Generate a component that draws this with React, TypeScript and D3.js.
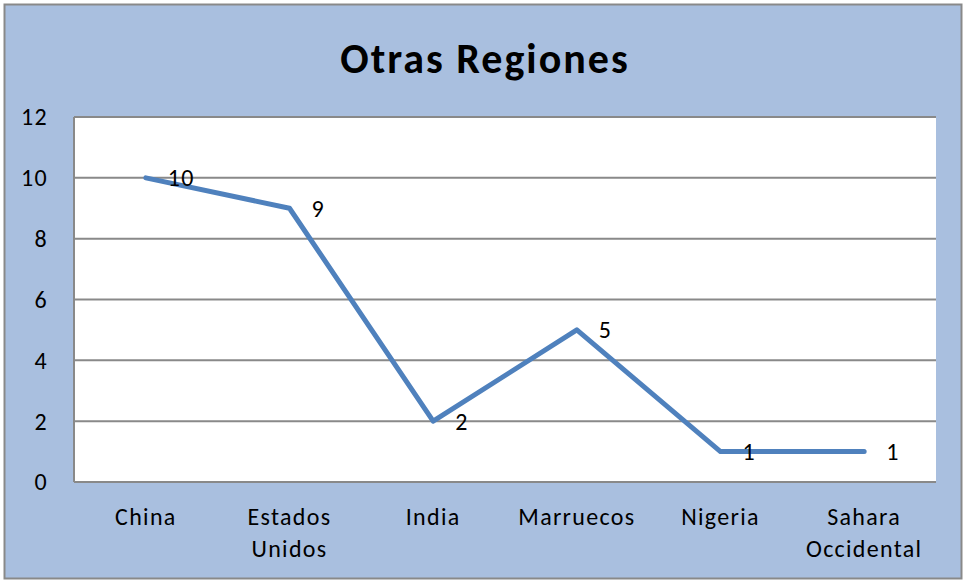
import React from "react";
import * as d3 from "d3";

const categories = ["China", "Estados Unidos", "India", "Marruecos", "Nigeria", "Sahara Occidental"];
const categoryLines = [["China"], ["Estados", "Unidos"], ["India"], ["Marruecos"], ["Nigeria"], ["Sahara", "Occidental"]];
const values = [10, 9, 2, 5, 1, 1];
const yTicks = [0, 2, 4, 6, 8, 10, 12];
const title = "Otras Regiones";

export default function App() {
  const W = 963, H = 581;
  const left = 74, right = 936, top = 117, bottom = 482;
  const x = d3.scaleBand<string>().domain(categories).range([left, right]);
  const y = d3.scaleLinear().domain([0, 12]).range([bottom, top]);
  const cx = (c: string) => (x(c) as number) + x.bandwidth() / 2;
  const line = d3.line<number>().x((_, i) => cx(categories[i])).y((d) => y(d));
  const font = "Carlito, Calibri, 'Open Sans', sans-serif";
  const ls = 1.3;
  return (
    <svg width={W} height={H} style={{ position: "absolute", left: 0, top: 0 }} fontFamily={font}>
      <rect x={0} y={0} width={W} height={H} fill="#fff" />
      <rect x={4.5} y={4.5} width={957} height={574} fill="#A9BFDF" stroke="#898989" strokeWidth={2} />
      <rect x={left} y={top} width={right - left} height={bottom - top} fill="#fff" />
      {yTicks.map((t) => (
        <line key={t} x1={left} x2={right} y1={y(t)} y2={y(t)} stroke="#898989" strokeWidth={2} />
      ))}
      <line x1={left} x2={left} y1={top} y2={bottom} stroke="#898989" strokeWidth={2} />
      {yTicks.map((t) => (
        <text key={t} x={48} y={y(t)} dy="0.35em" textAnchor="end" fontSize={24} letterSpacing={ls} fill="#000">{t}</text>
      ))}
      {categoryLines.map((lines, i) => (
        <text key={i} x={cx(categories[i])} y={517} textAnchor="middle" fontSize={24} letterSpacing={ls} fill="#000">
          {lines.map((l, j) => (
            <tspan key={j} x={cx(categories[i])} dy={j === 0 ? "0.35em" : "1.3em"}>{l}</tspan>
          ))}
        </text>
      ))}
      <path d={line(values) || ""} fill="none" stroke="#4F81BD" strokeWidth={5} strokeLinejoin="round" strokeLinecap="round" />
      {values.map((v, i) => (
        <text key={i} x={cx(categories[i]) + 22} y={y(v)} dy="0.35em" fontSize={24} letterSpacing={ls} fill="#000">{v}</text>
      ))}
      <text x={485} y={58} dy="0.35em" textAnchor="middle" fontSize={42} fontWeight="bold" letterSpacing={2} fill="#000">{title}</text>
    </svg>
  );
}
